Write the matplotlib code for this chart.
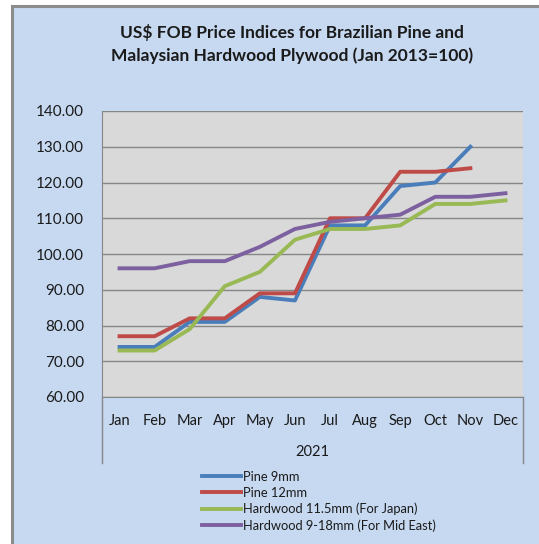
import numpy as np
import matplotlib
matplotlib.use("Agg")
import matplotlib.pyplot as plt
from matplotlib.patches import Rectangle

MONTHS = ["Jan", "Feb", "Mar", "Apr", "May", "Jun", "Jul", "Aug", "Sep", "Oct", "Nov", "Dec"]
YEAR = "2021"

pine_9 = [74, 74, 81, 81, 88, 87, 108, 108, 119, 120, 130, np.nan]
pine_12 = [77, 77, 82, 82, 89, 89, 110, 110, 123, 123, 124, np.nan]
hw_japan = [73, 73, 79, 91, 95, 104, 107, 107, 108, 114, 114, 115]
hw_mideast = [96, 96, 98, 98, 102, 107, 109, 110, 111, 116, 116, 117]

SERIES = [
    ("Pine 9mm", pine_9, "#4A7EBB"),
    ("Pine 12mm", pine_12, "#BE4B48"),
    ("Hardwood 11.5mm (For Japan)", hw_japan, "#98B954"),
    ("Hardwood 9-18mm (For Mid East)", hw_mideast, "#7D60A0"),
]

Y_TICKS = [60, 70, 80, 90, 100, 110, 120, 130, 140]

CHART_BG = "#C6D9F1"
PLOT_BG = "#D9D9D9"
GRID = "#868686"
TEXT = "#1a1a1a"

plt.rcParams["font.family"] = ["Lato", "DejaVu Sans"]

W, H = 539, 544
fig = plt.figure(figsize=(W / 100, H / 100), dpi=100)
fig.patch.set_facecolor("white")

# outer chart frame, drawn beneath the axes
fig.patches.append(Rectangle((12 / W, -0.01), 1.02 - 12 / W, 1.01 - 6 / H,
                             transform=fig.transFigure, facecolor=CHART_BG,
                             edgecolor="#8c8c8c", linewidth=2.2, zorder=-10))

left, right, top, bottom = 102, 523, 111, 397
ax = fig.add_axes([left / W, 1 - bottom / H, (right - left) / W, (bottom - top) / H])
ax.set_zorder(1)
ax.set_facecolor(PLOT_BG)

x = np.arange(len(MONTHS))
for label, vals, color in SERIES:
    ax.plot(x, vals, color=color, lw=2.8, label=label, solid_joinstyle="round")

ax.set_xlim(-0.5, len(MONTHS) - 0.5)
ax.set_ylim(60, 140)
ax.set_yticks(Y_TICKS)
ax.set_yticklabels([f"{v:.2f}" for v in Y_TICKS], fontsize=11, color=TEXT)
ax.yaxis.grid(True, color=GRID, lw=1.0)
ax.set_axisbelow(True)
ax.tick_params(axis="y", length=0, pad=13)

ax.set_xticks(x)
ax.set_xticklabels(MONTHS, fontsize=10.5, color=TEXT)
ax.tick_params(axis="x", length=0, pad=12)

for s in ["top", "right"]:
    ax.spines[s].set_visible(False)
ax.spines["left"].set_color(GRID)
ax.spines["bottom"].set_color(GRID)

# category axis dividers extending below the plot
ext = -(463 - bottom) / (bottom - top)
for xv in (0, 1):
    ax.plot([xv, xv], [0, ext], transform=ax.transAxes, color=GRID, lw=1.0, clip_on=False)

ax.text(0.5, -(452 - bottom) / (bottom - top), YEAR, transform=ax.transAxes,
        ha="center", va="center", fontsize=10.5, color=TEXT)

fig.text(292 / W, 1 - 44 / H,
         "US$ FOB Price Indices for Brazilian Pine and\nMalaysian Hardwood Plywood (Jan 2013=100)",
         ha="center", va="center", fontsize=12.5, fontweight="bold", color=TEXT, linespacing=1.5)

fig.legend(loc="upper left", bbox_to_anchor=(202 / W, 1 - 471 / H), frameon=False,
           fontsize=9.3, handlelength=3.0, handletextpad=0.15, labelspacing=0.3,
           borderaxespad=0, borderpad=0, labelcolor=TEXT)

fig.savefig("out.png", dpi=100)
